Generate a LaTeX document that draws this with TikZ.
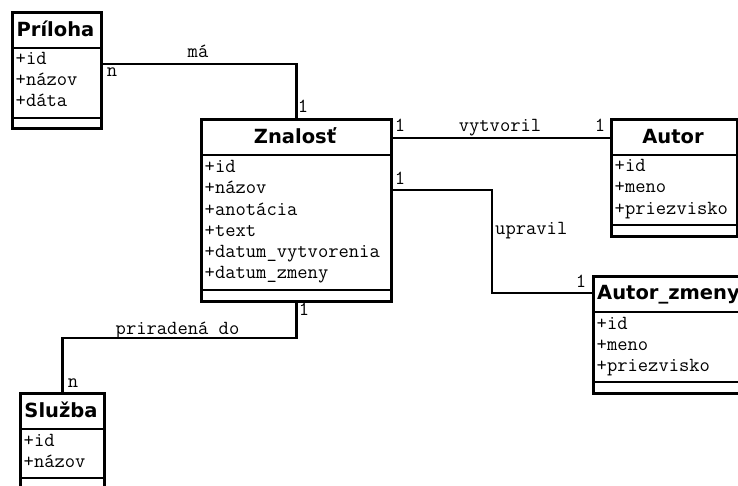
\documentclass[tikz,border=0pt]{standalone}
\usepackage{fontspec}
\newfontfamily\titlefont{DejaVu Sans}
\usetikzlibrary{calc}
\tikzset{
  classbox/.style={draw, line width=2.6pt, inner sep=0pt, anchor=north west, fill=white},
  sepline/.style={line width=2.6pt},
  conn/.style={line width=2.6pt},
  ctitle/.style={font=\titlefont\bfseries\fontsize{19.5}{19.5}\selectfont, anchor=base, inner sep=0pt},
  attr/.style={font=\ttfamily\fontsize{20}{20}\selectfont, anchor=base west, inner sep=0pt},
  lab/.style={font=\ttfamily\fontsize{20}{20}\selectfont, anchor=base, inner sep=0pt},
}
\begin{document}
\begin{tikzpicture}[x=1pt,y=-1pt]
\useasboundingbox (0,0) rectangle (738,486);
\fill[white] (0,0) rectangle (738,486);
\clip (0,0) rectangle (738,486);

% Priloha
\node[classbox, minimum width=89pt, minimum height=116pt] (priloha) at (11,11) {};
\draw[sepline] (priloha.west |- 0,48) -- (priloha.east |- 0,48);
\draw[sepline] (priloha.west |- 0,118) -- (priloha.east |- 0,118);
\node[ctitle] (pri-t) at (55.5,37) {Príloha};
\node[attr] (pri-a1) at (15.5,65) {+id};
\node[attr] (pri-a2) at (15.5,86) {+názov};
\node[attr] (pri-a3) at (15.5,107) {+dáta};

% Znalost
\node[classbox, minimum width=190pt, minimum height=182pt] (znalost) at (200,118) {};
\draw[sepline] (znalost.west |- 0,155) -- (znalost.east |- 0,155);
\draw[sepline] (znalost.west |- 0,290) -- (znalost.east |- 0,290);
\node[ctitle] (zn-t) at (295,143.5) {Znalosť};
\node[attr] (zn-a1) at (204.5,173) {+id};
\node[attr] (zn-a2) at (204.5,194) {+názov};
\node[attr] (zn-a3) at (204.5,215) {+anotácia};
\node[attr] (zn-a4) at (204.5,236.5) {+text};
\node[attr] (zn-a5) at (204.5,257.5) {+datum\_vytvorenia};
\node[attr] (zn-a6) at (204.5,278.5) {+datum\_zmeny};

% Autor
\node[classbox, minimum width=126pt, minimum height=117pt] (autor) at (610,118) {};
\draw[sepline] (autor.west |- 0,155) -- (autor.east |- 0,155);
\draw[sepline] (autor.west |- 0,225) -- (autor.east |- 0,225);
\node[ctitle] (au-t) at (673,144) {Autor};
\node[attr] (au-a1) at (614.5,172) {+id};
\node[attr] (au-a2) at (614.5,193) {+meno};
\node[attr] (au-a3) at (614.5,214.5) {+priezvisko};

% Autor_zmeny
\node[classbox, minimum width=151pt, minimum height=117pt] (autorz) at (592,275) {};
\draw[sepline] (autorz.west |- 0,312) -- (autorz.east |- 0,312);
\draw[sepline] (autorz.west |- 0,382) -- (autorz.east |- 0,382);
\node[ctitle, anchor=base west] (az-t) at (597,299) {Autor\_zmeny};
\node[attr] (az-a1) at (596.5,329) {+id};
\node[attr] (az-a2) at (596.5,350) {+meno};
\node[attr] (az-a3) at (596.5,371) {+priezvisko};

% Sluzba
\node[classbox, minimum width=84pt, minimum height=110pt] (sluzba) at (19,392) {};
\draw[sepline] (sluzba.west |- 0,429) -- (sluzba.east |- 0,429);
\draw[sepline] (sluzba.west |- 0,478) -- (sluzba.east |- 0,478);
\node[ctitle] (sl-t) at (61,417.5) {Služba};
\node[attr] (sl-a1) at (23.5,446.5) {+id};
\node[attr] (sl-a2) at (23.5,467) {+názov};

% connectors
\draw[conn] (priloha.east |- 0,64) -| (znalost.north);
\draw[conn] (znalost.east |- 0,138) -- (autor.west |- 0,138);
\coordinate (ubend) at (492,240);
\draw[conn] (znalost.east |- 0,190) -| (ubend) |- (autorz.west |- 0,293);
\draw[conn] (znalost.south) |- (sluzba.north |- 0,338) -- (sluzba.north);

% labels
\node[lab] (l-ma) at (198,58) {má};
\node[lab] (l-ma-n) at (112,77) {n};
\node[lab] (l-ma-1) at (303,113) {1};
\node[lab] (l-vy-1a) at (400,132) {1};
\node[lab] (l-vy) at (500,132) {vytvoril};
\node[lab] (l-vy-1b) at (600,132) {1};
\node[lab] (l-up-1a) at (400,185) {1};
\node[lab, anchor=base west] (l-up) at (495,235) {upravil};
\node[lab] (l-up-1b) at (581,287) {1};
\node[lab] (l-pr-1) at (304,315) {1};
\node[lab] (l-pr) at (177.5,334) {priradená do};
\node[lab] (l-pr-n) at (73,387) {n};
\end{tikzpicture}
\end{document}
